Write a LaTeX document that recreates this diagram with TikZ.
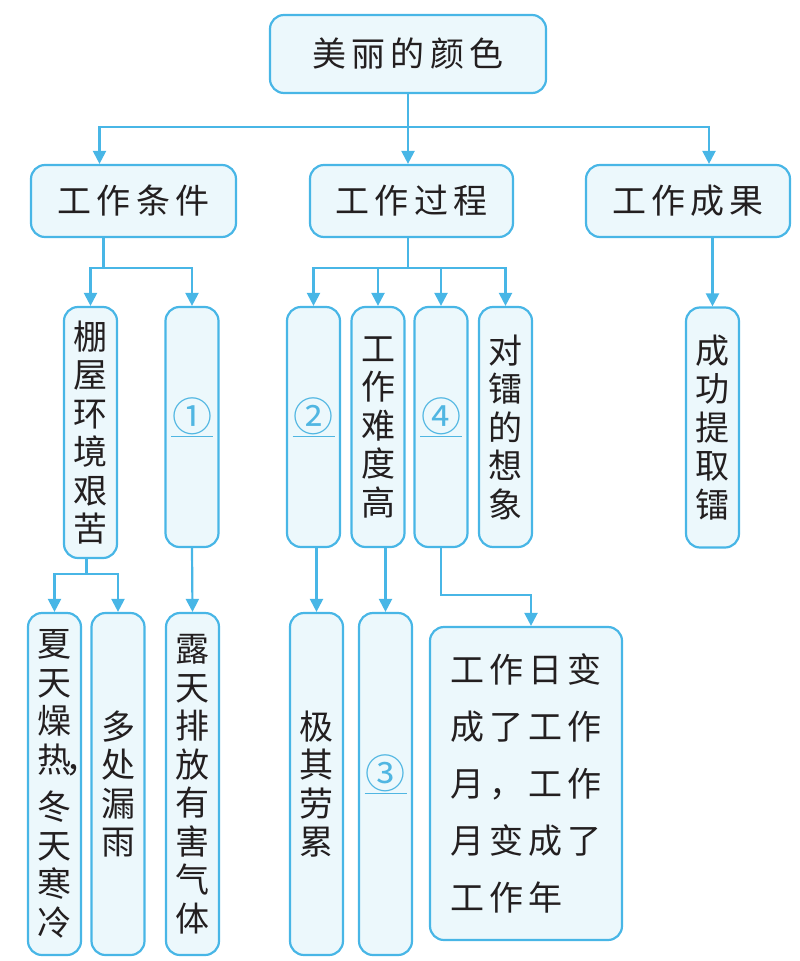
\documentclass[tikz,border=0pt]{standalone}
\usepackage{fontspec}
\setmainfont{Noto Sans CJK SC}
\newfontfamily\widefont[LetterSpace=15]{Noto Sans CJK SC}
\usetikzlibrary{arrows.meta}
\definecolor{linec}{RGB}{72,182,230}
\definecolor{fillc}{RGB}{236,248,252}
\definecolor{numc}{RGB}{80,182,226}
\definecolor{txtc}{RGB}{35,31,32}
\newcommand\blankno[1]{\raisebox{-4pt}[0pt][0pt]{\textcolor{numc}{\underline{\makebox[42pt]{\fontsize{40}{40}\selectfont #1}}}}}

\begin{document}
\begin{tikzpicture}[x=1pt,y=-1pt,
	box/.style={draw=linec, fill=fillc, line width=2.2pt, rounded corners=14pt, inner sep=0pt, text=txtc},
	hbox/.style={box, minimum height=72pt, font=\widefont\fontsize{34}{40}\selectfont},
	vbox/.style={box, minimum width=53pt, minimum height=240pt, align=center, font=\fontsize{34}{38.5}\selectfont},
	link/.style={draw=linec, line width=2.2pt},
	arr/.style={link, -{Triangle[width=13pt,length=13pt]}}]
	\useasboundingbox (0,0) rectangle (800,961);

	%top
	\node[hbox, minimum width=276pt, minimum height=78pt] (top) at (408,54) {美丽的颜色};

	%level 1
	\node[hbox, minimum width=205pt] (cond) at (133.5,201) {工作条件};
	\node[hbox, minimum width=203pt] (proc) at (411.5,201) {工作过程};
	\node[hbox, minimum width=204pt] (result) at (688,201) {工作成果};

	%level 2
	\node[vbox, minimum height=251pt] (shed) at (90.5,432.5) {棚\\屋\\环\\境\\艰\\苦};
	\node[vbox] (b1) at (192,427) {\blankno{①}};
	\node[vbox] (b2) at (313.5,427) {\blankno{②}};
	\node[vbox] (hard) at (378,427) {工\\作\\难\\度\\高};
	\node[vbox] (b4) at (441,427) {\blankno{④}};
	\node[vbox] (imag) at (505.5,427) {对\\镭\\的\\想\\象};
	\node[vbox] (ext) at (712.5,427.5) {成\\功\\提\\取\\镭};

	%level 3
	\node[vbox, minimum height=342pt] (summer) at (54.5,784) {夏\\天\\燥\\热\rlap{\hspace{-6pt}，}\\[9pt]冬\\天\\寒\\冷};
	\node[vbox, minimum height=342pt] (leak) at (118,784) {多\\处\\漏\\雨};
	\node[vbox, minimum height=342pt] (gas) at (192.5,784) {露\\天\\排\\放\\有\\害\\气\\体};
	\node[vbox, minimum height=342pt] (tired) at (316.5,784) {极\\其\\劳\\累};
	\node[vbox, minimum height=342pt] (b3) at (385.5,784) {\blankno{③}};
	\node[box, minimum width=192pt, minimum height=313pt, align=left, font=\widefont\fontsize{34}{57}\selectfont] (months) at (526,783.5)
		{工作日变\\成了工作\\月，工作\\月变成了\\工作年};

	%connectors
	\draw[link] (top.south) -- ++(0,33) coordinate (j0);
	\draw[arr] (j0) -| ([xshift=-34pt]cond.north);
	\draw[arr] (j0) -- (proc.north -| j0);
	\draw[arr] (j0) -| ([xshift=21pt]result.north);

	\draw[link] ([xshift=-30pt]cond.south) -- ++(0,30) coordinate (j1);
	\draw[arr] (j1) -| (shed.north);
	\draw[arr] (j1) -| (b1.north);
	\draw[link] (proc.south -| j0) -- ++(0,30) coordinate (j2);
	\foreach \n in {b2,hard,b4,imag}
		\draw[arr] (j2) -| (\n.north);
	\draw[arr] (result.south -| ext.north) -- (ext.north);

	\draw[link] ([xshift=-4pt]shed.south) -- ++(0,15) coordinate (j3);
	\draw[arr] (j3) -| (summer.north);
	\draw[arr] (j3) -| (leak.north);
	\draw[arr] (b1.south) -- (gas.north);
	\draw[arr] (tired.north |- b2.south) -- (tired.north);
	\draw[arr] (b3.north |- hard.south) -- (b3.north);
	\draw[arr] (b4.south) -- ++(0,47) -| ([xshift=5pt]months.north);
\end{tikzpicture}
\end{document}
